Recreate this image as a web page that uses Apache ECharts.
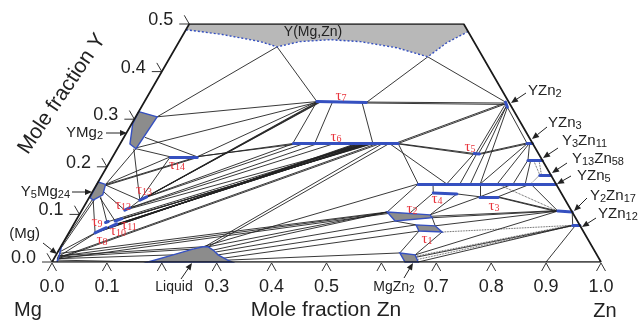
<!DOCTYPE html>
<html>
<head>
<meta charset="utf-8">
<script src="https://cdn.jsdelivr.net/npm/echarts/dist/echarts.min.js"></script>
<style>
html, body { margin: 0; background: #fff; }
#chart { width: 640px; height: 324px; }
</style>
</head>
<body>
<div id="chart"></div>
<script>
// all compositions are [x(Zn), x(Y)] mole fractions
const yTicks = [0, 0.1, 0.2, 0.3, 0.4, 0.5];
const znTicks = [0, 0.1, 0.2, 0.3, 0.4, 0.5, 0.6, 0.7, 0.8, 0.9, 1.0];
const znTickLabels = ['0.0', '0.1', '', '0.3', '0.4', '0.5', '', '0.7', '0.8', '0.9', '1.0'];

const frame = [[0, 0], [1, 0], [0.5, 0.5], [0, 0.5], [0, 0]];
const yMgZnBoundary = [[0, 0.488], [0.071, 0.478], [0.148, 0.463], [0.184, 0.452], [0.220, 0.463], [0.273, 0.467],
  [0.330, 0.463], [0.403, 0.450], [0.469, 0.431], [0.489, 0.461], [0.516, 0.484]];
const yMg2 = [[0, 0.316], [0.039, 0.305], [0.034, 0.238], [0.018, 0.248], [0.002, 0.290]];
const y5Mg24 = [[0, 0.168], [0.016, 0.163], [0.022, 0.141], [0.010, 0.130], [0.002, 0.135]];
const liquid = [[0.175, 0], [0.213, 0.015], [0.243, 0.027], [0.259, 0.032], [0.268, 0.032], [0.281, 0.025],
  [0.295, 0.015], [0.318, 0.004], [0.328, 0]];
const mgZn2 = [[0.624, 0.019], [0.654, 0.015], [0.667, 0], [0.643, 0]];
const tau2 = [[0.558, 0.105], [0.639, 0.099], [0.646, 0.093], [0.582, 0.086]];
const tau1 = [[0.624, 0.078], [0.660, 0.076], [0.679, 0.063], [0.636, 0.065]];
const mgSolid = [[0.009, 0], [0.007, 0.012], [0.003, 0.025], [0, 0.036]];

const phaseLines = [
  [[0.314, 0.337], [0.405, 0.335]],   // τ7
  [[0.315, 0.249], [0.506, 0.249]],   // τ6
  [[0.655, 0.228], [0.665, 0.227]],   // τ5
  [[0.622, 0.145], [0.666, 0.143]],   // τ4
  [[0.711, 0.137], [0.744, 0.137]],   // τ3
  [[0.105, 0.221], [0.154, 0.221]],   // τ14
  [[0.095, 0.130], [0.104, 0.137]],   // τ13
  [[0.078, 0.109], [0.085, 0.114]],   // τ12
  [[0.072, 0.086], [0.082, 0.091]],   // τ11
  [[0.069, 0.074], [0.078, 0.080]],   // τ10
  [[0.056, 0.083], [0.060, 0.085]],   // τ9
  [[0.048, 0.061], [0.063, 0.072]],   // τ8
  [[0.585, 0.164], [0.836, 0.164]],   // YZn5
  [[0.797, 0.183], [0.817, 0.183]],   // Y13Zn58
  [[0.760, 0.214], [0.786, 0.214]],   // Y3Zn11
  [[0.740, 0.250], [0.750, 0.250]],   // YZn3
  [[0.658, 0.336], [0.667, 0.325]],   // YZn2
  [[0.868, 0.107], [0.895, 0.105]],   // Y2Zn17
  [[0.910, 0.077], [0.923, 0.077]]    // YZn12
];

const tieLines = [
  [[0.184, 0.452], [0.039, 0.305]], [[0.184, 0.452], [0.314, 0.337]],
  [[0.469, 0.431], [0.405, 0.335]], [[0.469, 0.431], [0.658, 0.336]],
  [[0.405, 0.336], [0.658, 0.334]], [[0.405, 0.334], [0.660, 0.331]],
  [[0.039, 0.305], [0.314, 0.337]], [[0.034, 0.240], [0.316, 0.336]],
  [[0.314, 0.337], [0.314, 0.249]], [[0.343, 0.335], [0.354, 0.249]], [[0.398, 0.334], [0.460, 0.249]],
  [[0.034, 0.238], [0.105, 0.221]], [[0.038, 0.262], [0.154, 0.221]],
  [[0.034, 0.238], [0.016, 0.162]], [[0.030, 0.238], [0.095, 0.130]],
  [[0.016, 0.162], [0.154, 0.221]], [[0.016, 0.160], [0.154, 0.219]],
  [[0.016, 0.163], [0.105, 0.221]], [[0.016, 0.162], [0.095, 0.130]],
  [[0.021, 0.147], [0.078, 0.109]], [[0.020, 0.137], [0.058, 0.084]],
  [[0.020, 0.135], [0.072, 0.086]], [[0.010, 0.130], [0.048, 0.061]],
  [[0.000, 0.035], [0.008, 0.131]], [[0.002, 0.030], [0.012, 0.130]],
  [[0.003, 0.021], [0.048, 0.061]], [[0.005, 0.010], [0.050, 0.062]],
  [[0.095, 0.130], [0.105, 0.221]], [[0.085, 0.114], [0.095, 0.130]],
  [[0.154, 0.221], [0.314, 0.337]], [[0.154, 0.221], [0.315, 0.249]], [[0.150, 0.221], [0.330, 0.249]],
  [[0.100, 0.134], [0.315, 0.336]], [[0.102, 0.135], [0.317, 0.336]],
  [[0.104, 0.137], [0.319, 0.336]], [[0.104, 0.137], [0.321, 0.336]],
  [[0.104, 0.137], [0.316, 0.249]], [[0.104, 0.136], [0.335, 0.249]],
  [[0.085, 0.114], [0.360, 0.249]], [[0.082, 0.112], [0.390, 0.249]],
  [[0.048, 0.061], [0.430, 0.249]], [[0.052, 0.063], [0.433, 0.249]], [[0.055, 0.066], [0.436, 0.249]],
  [[0.059, 0.069], [0.438, 0.249]], [[0.063, 0.072], [0.441, 0.249]], [[0.058, 0.084], [0.445, 0.249]],
  [[0.066, 0.073], [0.447, 0.249]], [[0.069, 0.074], [0.449, 0.249]], [[0.074, 0.077], [0.451, 0.249]],
  [[0.078, 0.080], [0.453, 0.249]], [[0.072, 0.086], [0.457, 0.249]], [[0.077, 0.088], [0.459, 0.249]],
  [[0.082, 0.091], [0.461, 0.249]], [[0.078, 0.109], [0.450, 0.249]],
  [[0.005, 0.008], [0.468, 0.249]], [[0.006, 0.006], [0.474, 0.249]],
  [[0.004, 0.018], [0.558, 0.105]], [[0.005, 0.012], [0.560, 0.104]], [[0.006, 0.006], [0.562, 0.102]],
  [[0.262, 0.032], [0.478, 0.249]], [[0.268, 0.031], [0.490, 0.249]],
  [[0.007, 0.004], [0.175, 0.000]], [[0.006, 0.007], [0.213, 0.015]],
  [[0.005, 0.010], [0.243, 0.027]], [[0.004, 0.013], [0.259, 0.032]],
  [[0.506, 0.249], [0.655, 0.228]], [[0.500, 0.249], [0.655, 0.226]],
  [[0.500, 0.249], [0.656, 0.333]], [[0.506, 0.249], [0.658, 0.331]],
  [[0.506, 0.249], [0.585, 0.164]], [[0.490, 0.249], [0.637, 0.164]],
  [[0.660, 0.329], [0.658, 0.228]], [[0.664, 0.327], [0.663, 0.228]],
  [[0.667, 0.325], [0.698, 0.164]], [[0.664, 0.327], [0.680, 0.164]],
  [[0.665, 0.228], [0.740, 0.250]], [[0.665, 0.226], [0.741, 0.248]],
  [[0.655, 0.228], [0.637, 0.164]], [[0.660, 0.227], [0.661, 0.164]],
  [[0.667, 0.325], [0.740, 0.250]], [[0.742, 0.250], [0.698, 0.164]],
  [[0.745, 0.250], [0.729, 0.164]], [[0.745, 0.250], [0.760, 0.214]],
  [[0.760, 0.214], [0.758, 0.164]], [[0.765, 0.214], [0.780, 0.164]],
  [[0.612, 0.164], [0.622, 0.145]], [[0.698, 0.164], [0.711, 0.137]], [[0.666, 0.143], [0.711, 0.137]],
  [[0.744, 0.137], [0.868, 0.107]], [[0.744, 0.136], [0.866, 0.106]],
  [[0.744, 0.137], [0.790, 0.164]], [[0.711, 0.137], [0.758, 0.164]],
  [[0.790, 0.164], [0.868, 0.107]], [[0.895, 0.105], [0.910, 0.077]], [[0.915, 0.077], [0.900, 0.000]],
  [[0.558, 0.105], [0.585, 0.164]], [[0.600, 0.102], [0.622, 0.145]],
  [[0.639, 0.099], [0.666, 0.143]], [[0.639, 0.099], [0.711, 0.137]],
  [[0.646, 0.093], [0.868, 0.107]], [[0.642, 0.096], [0.868, 0.108]],
  [[0.624, 0.078], [0.582, 0.086]], [[0.660, 0.076], [0.646, 0.093]], [[0.660, 0.076], [0.868, 0.107]],
  [[0.654, 0.015], [0.679, 0.063]], [[0.624, 0.019], [0.636, 0.065]],
  [[0.658, 0.010], [0.912, 0.077]], [[0.654, 0.015], [0.868, 0.107]], [[0.667, 0.000], [0.910, 0.077]],
  [[0.281, 0.025], [0.558, 0.105]], [[0.288, 0.021], [0.582, 0.086]],
  [[0.295, 0.015], [0.624, 0.078]], [[0.308, 0.008], [0.636, 0.065]],
  [[0.318, 0.004], [0.624, 0.019]], [[0.259, 0.032], [0.585, 0.164]], [[0.265, 0.031], [0.558, 0.105]]
];

const dottedTies = [
  [[0.679, 0.063], [0.910, 0.077]], [[0.662, 0.005], [0.914, 0.077]], [[0.656, 0.012], [0.905, 0.077]],
  [[0.770, 0.214], [0.797, 0.183]], [[0.780, 0.214], [0.800, 0.183]], [[0.797, 0.183], [0.790, 0.164]],
  [[0.729, 0.164], [0.868, 0.107]]
];

// ternary -> cartesian
const tc = p => [p[0] + p[1] / 2, p[1] * Math.sqrt(3) / 2];

const BLUE = '#3550c0';
const regions = [
  { pts: [[0, 0.5], [0.5, 0.5]].concat(yMgZnBoundary.slice().reverse()), fill: '#b8b8b8', stroke: null },
  { pts: yMg2, fill: '#8c8c8c', stroke: BLUE },
  { pts: y5Mg24, fill: '#8c8c8c', stroke: BLUE },
  { pts: liquid, fill: '#8c8c8c', stroke: BLUE },
  { pts: mgZn2, fill: '#8c8c8c', stroke: BLUE },
  { pts: tau2, fill: '#8c8c8c', stroke: BLUE },
  { pts: tau1, fill: '#8c8c8c', stroke: BLUE }
];

const FONT = 'Liberation Sans';
const sub = size => ({
  m: { fontSize: size, fontFamily: FONT, fill: '#222', lineHeight: size + 1, verticalAlign: 'top' },
  s: { fontSize: size - 4, fontFamily: FONT, fill: '#222', lineHeight: size - 4, verticalAlign: 'bottom', padding: [8, 0, 0, 0] }
});

// annotation: text pieces, x, y, align, arrow [x1,y1,x2,y2]
const notes = [
  ['{m|YMg}{s|2}', 103, 133, 'right', [106, 133, 127, 133]],
  ['{m|Y}{s|5}{m|Mg}{s|24}', 70, 192, 'right', [72, 192, 92, 192]],
  ['{m|(Mg)}', 40, 234, 'right', [43, 243, 57, 254]],
  ['{m|YZn}{s|2}', 528, 91, 'left', [526, 93, 511, 103]],
  ['{m|YZn}{s|3}', 548, 123, 'left', [547, 127, 532, 139]],
  ['{m|Y}{s|3}{m|Zn}{s|11}', 562, 141, 'left', [558, 148, 543, 158]],
  ['{m|Y}{s|13}{m|Zn}{s|58}', 572, 159, 'left', [567, 163, 552, 173]],
  ['{m|YZn}{s|5}', 577, 176, 'left', [571, 176, 557, 184]],
  ['{m|Y}{s|2}{m|Zn}{s|17}', 590, 196, 'left', [587, 198, 574, 211]],
  ['{m|YZn}{s|12}', 598, 214, 'left', [596, 218, 582, 227]]
];
const taus = [
  ['7', 341, 96], ['6', 336, 137], ['5', 470, 147], ['14', 177, 165], ['13', 144, 190], ['12', 123, 205],
  ['9', 97, 222], ['11', 129, 225], ['10', 118, 231], ['8', 102, 240], ['4', 437, 199], ['3', 494, 206],
  ['2', 412, 209], ['1', 427, 239]
];

function arrow(x1, y1, x2, y2) {
  const a = Math.atan2(y2 - y1, x2 - x1), L = 7, W = 3;
  const bx = x2 - L * Math.cos(a), by = y2 - L * Math.sin(a);
  return [
    { type: 'line', shape: { x1: x1, y1: y1, x2: bx, y2: by }, style: { stroke: '#222', lineWidth: 1 } },
    { type: 'polygon', shape: { points: [[x2, y2], [bx - W * Math.sin(a), by + W * Math.cos(a)], [bx + W * Math.sin(a), by - W * Math.cos(a)]] }, style: { fill: '#222' } }
  ];
}

const graphics = [];
notes.forEach(n => {
  graphics.push({ type: 'text', x: n[1], y: n[2], style: { text: n[0], rich: sub(15), align: n[3], verticalAlign: 'middle' } });
  arrow.apply(null, n[4]).forEach(g => graphics.push(g));
});
graphics.push({ type: 'text', x: 174, y: 287, style: { text: 'Liquid', font: '14px "Liberation Sans"', fill: '#222', align: 'center', verticalAlign: 'middle' } });
arrow(181, 279, 192, 263).forEach(g => graphics.push(g));
graphics.push({ type: 'text', x: 394, y: 288, style: { text: '{m|MgZn}{s|2}', rich: sub(14), align: 'center', verticalAlign: 'middle' } });
arrow(404, 278, 413, 263).forEach(g => graphics.push(g));
graphics.push({ type: 'text', x: 313, y: 32, style: { text: 'Y(Mg,Zn)', font: '14px "Liberation Sans"', fill: '#222', align: 'center', verticalAlign: 'middle' } });
taus.forEach(t => graphics.push({
  type: 'text', x: t[1], y: t[2], style: {
    text: '{a|τ}{b|' + t[0] + '}', align: 'center', verticalAlign: 'middle',
    rich: {
      a: { fontSize: 15, fontFamily: 'Liberation Serif', fill: '#e8343c', lineHeight: 15, verticalAlign: 'top' },
      b: { fontSize: 10, fontFamily: 'Liberation Serif', fill: '#e8343c', lineHeight: 10, verticalAlign: 'bottom', padding: [8, 0, 0, 0] }
    }
  }
}));
graphics.push({ type: 'text', x: 28, y: 310, style: { text: 'Mg', font: '20px "Liberation Sans"', fill: '#222', align: 'center', verticalAlign: 'middle' } });
graphics.push({ type: 'text', x: 605, y: 311, style: { text: 'Zn', font: '20px "Liberation Sans"', fill: '#222', align: 'center', verticalAlign: 'middle' } });
graphics.push({ type: 'text', x: 326, y: 310, style: { text: 'Mole fraction Zn', font: '21px "Liberation Sans"', fill: '#222', align: 'center', verticalAlign: 'middle' } });
graphics.push({ type: 'text', x: 62, y: 94, rotation: 56 * Math.PI / 180, style: { text: 'Mole fraction Y', font: '21px "Liberation Sans"', fill: '#222', align: 'center', verticalAlign: 'middle' } });
graphics.forEach(g => { g.z = 100; });

const chart = echarts.init(document.getElementById('chart'));
const toLines = arr => arr.map(t => ({ coords: [tc(t[0]), tc(t[1])] }));

chart.setOption({
  animation: false,
  grid: { left: 52, right: 39, top: 24, bottom: 62 },
  xAxis: { type: 'value', min: 0, max: 1, show: false },
  yAxis: { type: 'value', min: 0, max: Math.sqrt(3) / 4, show: false },
  graphic: graphics,
  series: [
    {
      type: 'lines', coordinateSystem: 'cartesian2d', z: 1, silent: true,
      data: toLines(tieLines),
      lineStyle: { color: '#222', width: 0.9, opacity: 1 }
    },
    {
      type: 'lines', coordinateSystem: 'cartesian2d', z: 1, silent: true,
      data: toLines(dottedTies),
      lineStyle: { color: '#222', width: 0.8, opacity: 1, type: 'dotted' }
    },
    {
      type: 'custom', coordinateSystem: 'cartesian2d', z: 2, silent: true, clip: false,
      data: regions.map((r, i) => [i]),
      renderItem: (params, api) => {
        const r = regions[params.dataIndex];
        return {
          type: 'polygon',
          shape: { points: r.pts.map(p => api.coord(tc(p))) },
          style: { fill: r.fill, stroke: r.stroke, lineWidth: 1.4 }
        };
      }
    },
    {
      type: 'lines', coordinateSystem: 'cartesian2d', z: 3, silent: true,
      data: toLines(phaseLines),
      lineStyle: { color: BLUE, width: 3, opacity: 1, cap: 'round' }
    },
    {
      type: 'line', z: 3, silent: true, symbol: 'none',
      data: mgSolid.map(tc),
      lineStyle: { color: BLUE, width: 1.6 }
    },
    {
      type: 'line', z: 4, silent: true, symbol: 'none',
      data: yMgZnBoundary.map(tc),
      lineStyle: { color: BLUE, width: 1.4, type: [2, 2] }
    },
    {
      type: 'line', z: 5, silent: true, symbol: 'none',
      data: frame.map(tc),
      lineStyle: { color: '#1a1a1a', width: 1.7 }
    },
    {
      type: 'custom', coordinateSystem: 'cartesian2d', z: 5, silent: true, clip: false,
      data: yTicks.map(v => tc([0, v])),
      renderItem: (params, api) => {
        const p = api.coord([api.value(0), api.value(1)]);
        return {
          type: 'group', children: [
            { type: 'line', shape: { x1: p[0] - 10, y1: p[1], x2: p[0], y2: p[1] }, style: { stroke: '#333', lineWidth: 1 } },
            { type: 'line', shape: { x1: p[0], y1: p[1], x2: p[0] - 5, y2: p[1] - 8.7 }, style: { stroke: '#333', lineWidth: 1 } },
            { type: 'text', x: p[0] - 16, y: p[1] - 4, style: { text: yTicks[params.dataIndex].toFixed(1), font: '18px "Liberation Sans"', fill: '#222', align: 'right', verticalAlign: 'middle' } }
          ]
        };
      }
    },
    {
      type: 'custom', coordinateSystem: 'cartesian2d', z: 5, silent: true, clip: false,
      data: znTicks.map(v => [v, 0]),
      renderItem: (params, api) => {
        const p = api.coord([api.value(0), api.value(1)]);
        return {
          type: 'group', children: [
            { type: 'polyline', shape: { points: [[p[0] - 4.5, p[1] + 9], [p[0], p[1] + 1], [p[0] + 4.5, p[1] + 9]] }, style: { stroke: '#333', lineWidth: 1, fill: null } },
            { type: 'text', x: p[0], y: p[1] + 25, style: { text: znTickLabels[params.dataIndex], font: '18px "Liberation Sans"', fill: '#222', align: 'center', verticalAlign: 'middle' } }
          ]
        };
      }
    }
  ]
});
</script>
</body>
</html>
